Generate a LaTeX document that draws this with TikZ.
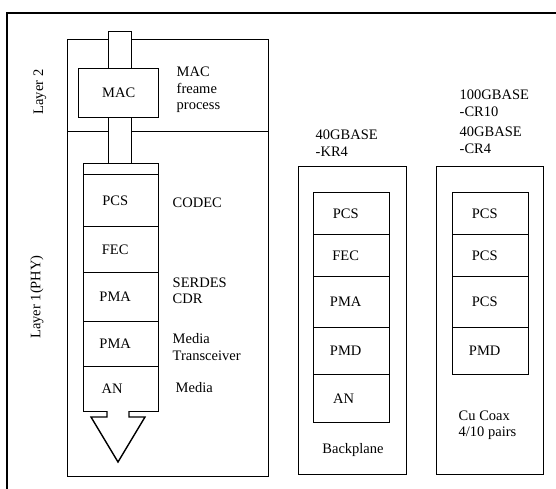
\documentclass[tikz,border=0pt]{standalone}
\usepackage{fontspec}
\setmainfont{Liberation Serif}
\begin{document}
\begin{tikzpicture}[x=1pt,y=-1pt,line width=1.4pt,
  every node/.style={font=\fontsize{14.5}{16.5}\selectfont},
  frame/.style={draw,fill=white,inner sep=0,anchor=north west},
  cell/.style={draw,fill=white,inner sep=0,anchor=north west},
  txt/.style={inner sep=0,anchor=west,align=left}]
\useasboundingbox (0,0) rectangle (556,488);
\begin{scope}
\clip (0,0) rectangle (556,488);
\draw (7,495) -- (7,13) -- (565,13);
\end{scope}
% left containers
\node[frame,minimum width=201,minimum height=92] (l2) at (67,39) {};
\node[frame,minimum width=201,minimum height=345] (l1) at (67,131) {};
\node[rotate=90] (l2t) at (40,92) {Layer 2};
\node[rotate=90] (l1t) at (37,297) {Layer 1(PHY)};
% pipes and MAC
\node[cell,minimum width=23,minimum height=37] (pipe1) at (108,31) {};
\node[cell,minimum width=80,minimum height=49,label={[inner sep=0]center:MAC}] (mac) at (78,68) {};
\node[cell,minimum width=23,minimum height=46] (pipe2) at (108,117) {};
% left stack
\node[cell,minimum width=75,minimum height=11] (strip) at (83,163) {};
\node[cell,minimum width=75,minimum height=52,label={[xshift=-6pt]center:PCS}] (pcsA) at (83,174) {};
\node[cell,minimum width=75,minimum height=46,label={[xshift=-6pt]center:FEC}] (fecA) at (83,226) {};
\node[cell,minimum width=75,minimum height=49,label={[xshift=-6pt]center:PMA}] (pmaA) at (83,272) {};
\node[cell,minimum width=75,minimum height=45,label={[xshift=-6pt]center:PMA}] (pmaB) at (83,321) {};
\node[cell,minimum width=75,minimum height=45,label={[xshift=-9pt]center:AN}] (anA) at (83,366) {};
\draw[fill=white] (107,411) -- (107,417) -- (91,417) -- (118,462) -- (145,417) -- (129,417) -- (129,411);
% left labels
\node[txt] (t1) at (176,90) {MAC\\freame\\process};
\node[txt] (t2) at (172,203) {CODEC};
\node[txt] (t3) at (172,291) {SERDES\\CDR};
\node[txt] (t4) at (172,347) {Media\\Transceiver};
\node[txt] (t5) at (175,388) {Media};
% middle column
\node[frame,minimum width=108,minimum height=308] (mid) at (298,166) {};
\node[cell,minimum width=76,minimum height=42,label={[xshift=-6pt]center:PCS}] (pcsM) at (313,192) {};
\node[cell,minimum width=76,minimum height=42,label={[xshift=-6pt]center:FEC}] (fecM) at (313,234) {};
\node[cell,minimum width=76,minimum height=51,label={[xshift=-6pt]center:PMA}] (pmaM) at (313,276) {};
\node[cell,minimum width=76,minimum height=47,label={[xshift=-6pt]center:PMD}] (pmdM) at (313,327) {};
\node[cell,minimum width=76,minimum height=48,label={[xshift=-8pt]center:AN}] (anM) at (313,374) {};
\node[txt] (t6) at (315,143) {40GBASE\\-KR4};
\node (t7) at (353,450) {Backplane};
% right column
\node[frame,minimum width=107,minimum height=308] (rgt) at (436,166) {};
\node[cell,minimum width=76,minimum height=42,label={[xshift=-6pt]center:PCS}] (pcsR1) at (452,192) {};
\node[cell,minimum width=76,minimum height=42,label={[xshift=-6pt]center:PCS}] (pcsR2) at (452,234) {};
\node[cell,minimum width=76,minimum height=51,label={[xshift=-6pt]center:PCS}] (pcsR3) at (452,276) {};
\node[cell,minimum width=76,minimum height=47,label={[xshift=-6pt]center:PMD}] (pmdR) at (452,327) {};
\node[txt] (t8) at (459,103) {100GBASE\\-CR10};
\node[txt] (t9) at (459,140) {40GBASE\\-CR4};
\node[txt] (t10) at (458,425) {Cu Coax\\4/10 pairs};
\end{tikzpicture}
\end{document}
